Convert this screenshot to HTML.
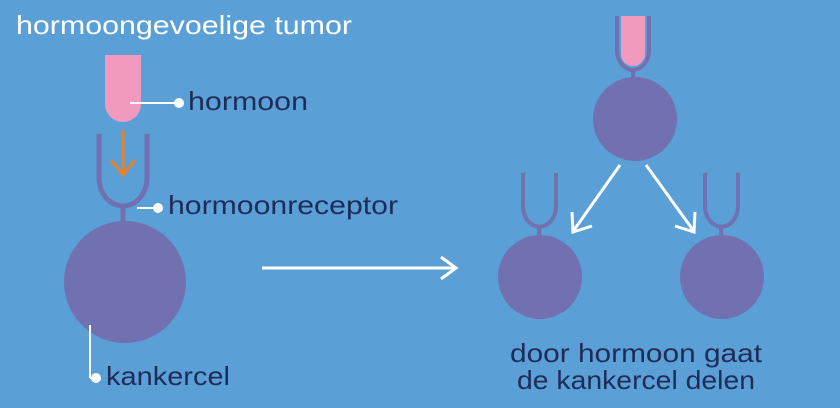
<!DOCTYPE html>
<html><head><style>
html,body{margin:0;padding:0;background:#5aa0d6;}
svg{display:block}
text{font-family:"Liberation Sans",sans-serif;}
</style></head><body>
<svg width="840" height="408" viewBox="0 0 840 408">
<rect width="840" height="408" fill="#5aa0d6"/>
<text x="16" y="34" font-size="26" fill="#fff" textLength="336" lengthAdjust="spacingAndGlyphs">hormoongevoelige tumor</text>
<!-- left hormone -->
<path d="M105 55 H141 V104 A18 18 0 0 1 105 104 Z" fill="#f29abe"/>
<line x1="130" y1="103" x2="178" y2="103" stroke="#fff" stroke-width="2"/>
<circle cx="179" cy="103" r="5" fill="#fff"/>
<text x="188" y="110" font-size="26" fill="#1f2c5a" textLength="120" lengthAdjust="spacingAndGlyphs">hormoon</text>
<!-- receptor -->
<path d="M99 134 V178 A24 28 0 0 0 147 178 V134" fill="none" stroke="#7170b0" stroke-width="5"/>
<line x1="123" y1="205" x2="123" y2="224" stroke="#7170b0" stroke-width="5"/>
<line x1="123" y1="130" x2="123" y2="174" stroke="#e8802a" stroke-width="3"/>
<polyline points="111,160 123,175 135,160" fill="none" stroke="#e8802a" stroke-width="3"/>
<line x1="137" y1="208" x2="158" y2="208" stroke="#fff" stroke-width="2"/>
<circle cx="158" cy="208" r="5" fill="#fff"/>
<text x="168" y="214" font-size="26" fill="#1f2c5a" textLength="230" lengthAdjust="spacingAndGlyphs">hormoonreceptor</text>
<circle cx="125" cy="282" r="61" fill="#7170b0"/>
<line x1="90" y1="325" x2="90" y2="378" stroke="#fff" stroke-width="2"/>
<line x1="90" y1="378" x2="96" y2="378" stroke="#fff" stroke-width="2"/>
<circle cx="96" cy="378" r="5" fill="#fff"/>
<text x="106" y="385" font-size="26" fill="#1f2c5a" textLength="124" lengthAdjust="spacingAndGlyphs">kankercel</text>
<!-- big arrow -->
<line x1="262" y1="268" x2="455" y2="268" stroke="#fff" stroke-width="3"/>
<polyline points="441,257 456,268 441,279" fill="none" stroke="#fff" stroke-width="3"/>
<!-- right top -->
<path d="M621 16 H645 V54 A12 12 0 0 1 621 54 Z" fill="#f29abe"/>
<path d="M617 16 V50 A16 20 0 0 0 649 50 V16" fill="none" stroke="#7170b0" stroke-width="4"/>
<line x1="633" y1="70" x2="633" y2="80" stroke="#7170b0" stroke-width="4"/>
<circle cx="635" cy="119" r="42" fill="#7170b0"/>
<line x1="620" y1="165" x2="574" y2="230" stroke="#fff" stroke-width="3"/>
<polyline points="572,212 573,232 592,226" fill="none" stroke="#fff" stroke-width="3"/>
<line x1="646" y1="165" x2="693" y2="230" stroke="#fff" stroke-width="3"/>
<polyline points="695,212 694,232 675,226" fill="none" stroke="#fff" stroke-width="3"/>
<!-- small cells -->
<path d="M523 173 V206 A16 20 0 0 0 556 206 V173" fill="none" stroke="#7170b0" stroke-width="4"/>
<line x1="539" y1="226" x2="539" y2="238" stroke="#7170b0" stroke-width="4"/>
<circle cx="540" cy="277" r="42" fill="#7170b0"/>
<path d="M705 173 V206 A16 20 0 0 0 738 206 V173" fill="none" stroke="#7170b0" stroke-width="4"/>
<line x1="721" y1="226" x2="721" y2="238" stroke="#7170b0" stroke-width="4"/>
<circle cx="722" cy="277" r="42" fill="#7170b0"/>
<text x="510" y="362" font-size="26" fill="#1f2c5a" textLength="252" lengthAdjust="spacingAndGlyphs">door hormoon gaat</text>
<text x="517" y="389" font-size="26" fill="#1f2c5a" textLength="238" lengthAdjust="spacingAndGlyphs">de kankercel delen</text>
</svg>
</body></html>
